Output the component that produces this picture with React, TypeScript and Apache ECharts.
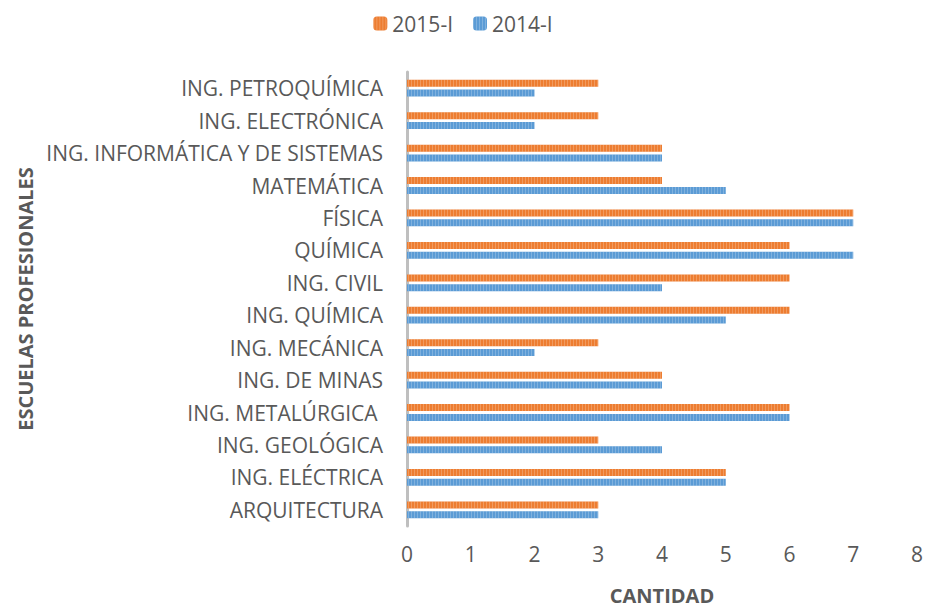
import React, { useEffect, useRef } from "react";
import * as echarts from "echarts";

const categories = [
  "ING. PETROQUÍMICA",
  "ING. ELECTRÓNICA",
  "ING. INFORMÁTICA Y DE SISTEMAS",
  "MATEMÁTICA",
  "FÍSICA",
  "QUÍMICA",
  "ING. CIVIL",
  "ING. QUÍMICA",
  "ING. MECÁNICA",
  "ING. DE MINAS",
  "ING. METALÚRGICA ",
  "ING. GEOLÓGICA",
  "ING. ELÉCTRICA",
  "ARQUITECTURA",
];
const series2015 = [3, 3, 4, 4, 7, 6, 6, 6, 3, 4, 6, 3, 5, 3];
const series2014 = [2, 2, 4, 5, 7, 7, 4, 5, 2, 4, 6, 4, 5, 3];
const xTicks = { min: 0, max: 8, interval: 1 };

const FONT = "'Open Sans', 'Noto Sans', sans-serif";
const TXT = "#595959";

export default function App() {
  const ref = useRef<HTMLDivElement>(null);
  useEffect(() => {
    const chart = echarts.init(ref.current!, null, { renderer: "svg" });
    const decal = {
      symbol: "rect",
      symbolSize: 1,
      color: "rgba(255,255,255,0.22)",
      dashArrayX: [1, 2],
      dashArrayY: [4, 0],
      rotation: 0,
    };
    chart.setOption({
      animation: false,
      textStyle: { fontFamily: FONT },
      legend: {
        top: 8,
        left: "center",
        itemWidth: 14,
        itemHeight: 14,
        itemGap: 20,
        textStyle: { fontSize: 21, color: TXT, fontFamily: FONT },
        data: ["2015-I", "2014-I"],
      },
      grid: { left: 407, right: 8, top: 72, height: 456, containLabel: false },
      xAxis: {
        type: "value",
        min: xTicks.min,
        max: xTicks.max,
        interval: xTicks.interval,
        axisLine: { show: false },
        axisTick: { show: false },
        splitLine: { show: false },
        axisLabel: { fontSize: 21, color: TXT, margin: 17, fontFamily: FONT },
        name: "CANTIDAD",
        nameLocation: "middle",
        nameGap: 59,
        nameTextStyle: { fontSize: 20, fontWeight: "bold", color: TXT, fontFamily: FONT },
      },
      yAxis: {
        type: "category",
        inverse: true,
        data: categories,
        axisLine: { show: true, lineStyle: { color: "#BFBFBF", width: 3 } },
        axisTick: { show: false },
        axisLabel: { fontSize: 21, color: TXT, margin: 24, fontFamily: FONT },
        name: "ESCUELAS PROFESIONALES",
        nameLocation: "middle",
        nameGap: 368,
        nameRotate: 90,
        nameTextStyle: { fontSize: 20, fontWeight: "bold", color: TXT, fontFamily: FONT },
      },
      series: [
        {
          name: "2015-I",
          type: "bar",
          data: series2015,
          barWidth: 7,
          barGap: "40%",
          itemStyle: { color: "#ED7D31", decal },
        },
        {
          name: "2014-I",
          type: "bar",
          data: series2014,
          barWidth: 7,
          barGap: "40%",
          itemStyle: { color: "#5B9BD5", decal },
        },
      ],
    });
    return () => chart.dispose();
  }, []);
  return (
    <div
      ref={ref}
      style={{ position: "fixed", left: 0, top: 0, width: 926, height: 610, background: "#fff" }}
    />
  );
}
